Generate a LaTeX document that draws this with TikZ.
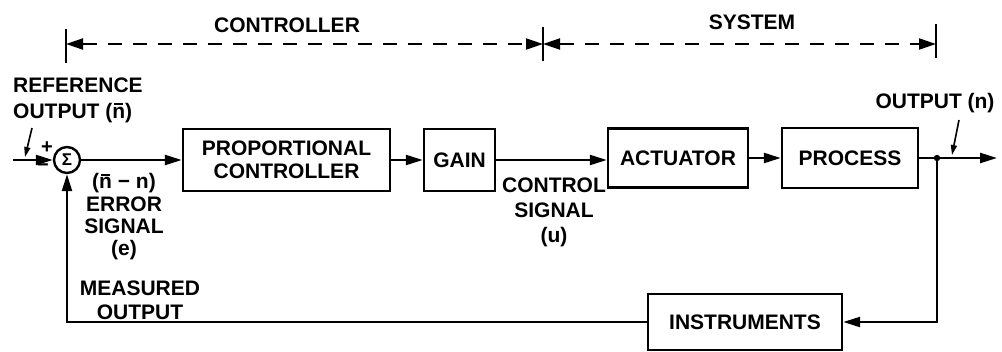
\documentclass[tikz,border=0pt]{standalone}
\usepackage{fontspec}
\setmainfont{Liberation Sans}
\usetikzlibrary{arrows.meta}
\newcommand{\nbarsym}{\ooalign{n\cr\hidewidth\rule[0.64em]{0.42em}{0.075em}\hidewidth\cr}}
\begin{document}
\begin{tikzpicture}[x=1pt,y=-1pt,
  line width=2.4pt,
  >={Triangle[length=17pt,width=10pt]},
  lbl/.style={font=\fontsize{21}{24}\selectfont\bfseries,inner sep=0pt,align=center},
  blk/.style={draw,line width=2.4pt,inner sep=0pt,font=\fontsize{21}{23}\selectfont\bfseries,align=center},
  dimline/.style={line width=2pt,dash pattern=on 14pt off 11pt},
  dimtip/.style={{Triangle[length=17pt,width=11pt]}-{Triangle[length=17pt,width=11pt]}},
  pointer/.style={line width=1.6pt,-{Triangle[length=10pt,width=6pt]}}]
\useasboundingbox (0,0) rectangle (1002,351);
\fill[white] (0,0) rectangle (1002,351);

% top dimension lines
\coordinate (tl) at (66,44);
\coordinate (tm) at (543,44);
\coordinate (tr) at (936,44);
\coordinate (tlt) at (66,29);  \coordinate (tlb) at (66,63);
\coordinate (tmt) at (543,27); \coordinate (tmb) at (543,61);
\coordinate (trt) at (936,24); \coordinate (trb) at (936,58);
\draw[dimline,dimtip] (tl) -- (tm);
\draw[dimline,dimtip] (tm) -- (tr);
\draw[line width=2pt] (tlt) -- (tlb);
\draw[line width=2pt] (tmt) -- (tmb);
\draw[line width=2pt] (trt) -- (trb);
\node[lbl] (ctrl) at (287,25) {CONTROLLER};
\node[lbl] (sys) at (752,22) {SYSTEM};

% blocks
\node[draw,circle,line width=2.4pt,minimum size=26pt,inner sep=0pt,font=\fontsize{17}{17}\selectfont\bfseries] (sum) at (67,160) {Σ};
\node[blk,minimum width=207pt,minimum height=62pt] (prop) at (286.5,160) {PROPORTIONAL\\CONTROLLER};
\node[blk,minimum width=71pt,minimum height=62pt] (gain) at (459.5,160) {GAIN};
\node[blk,minimum width=140pt,minimum height=59pt] (act) at (678,158) {ACTUATOR};
\node[blk,minimum width=136pt,minimum height=60pt] (proc) at (850,158) {PROCESS};
\node[blk,minimum width=194pt,minimum height=56pt] (inst) at (745,322) {INSTRUMENTS};

% main path
\coordinate (in) at (13,160);
\draw[->] (in) -- (sum.west);
\draw[->] (sum.east) -- (prop.west);
\draw[->] (prop.east) -- (gain.west);
\draw[->] (gain.east) -- (gain.east -| act.west);
\draw[->] (act.east) -- (proc.west);
\coordinate (j) at (937,158);
\coordinate (outend) at (997,158);
\draw[->] (proc.east) -- (outend);
\fill (j) circle (3.2pt);
\draw[->] (j) |- (inst.east);
\draw[->] (inst.west) -| (sum.south);

% pointers
\coordinate (rp1) at (32,128); \coordinate (rp2) at (25,157);
\draw[pointer] (rp1) -- (rp2);
\coordinate (op1) at (959,120); \coordinate (op2) at (952,155);
\draw[pointer] (op1) -- (op2);

% labels
\node[lbl,align=left,anchor=west,font=\fontsize{21}{26}\selectfont\bfseries] (ref) at (12,100) {REFERENCE\\OUTPUT (\nbarsym)};
\node[lbl,font=\fontsize{20}{20}\selectfont\bfseries] (plus) at (47,148) {+};
\node[lbl,font=\fontsize{20}{20}\selectfont\bfseries] (minus) at (43,168) {−};
\node[lbl,font=\fontsize{21}{22.3}\selectfont\bfseries] (err) at (124,217) {(\nbarsym\ − n)\\ERROR\\SIGNAL\\(e)};
\node[lbl] (meas) at (140,300) {MEASURED\\OUTPUT};
\node[lbl,font=\fontsize{21}{25}\selectfont\bfseries] (cs) at (554,212) {CONTROL\\SIGNAL\\(u)};
\node[lbl] (outl) at (935,103) {OUTPUT (n)};
\end{tikzpicture}
\end{document}
